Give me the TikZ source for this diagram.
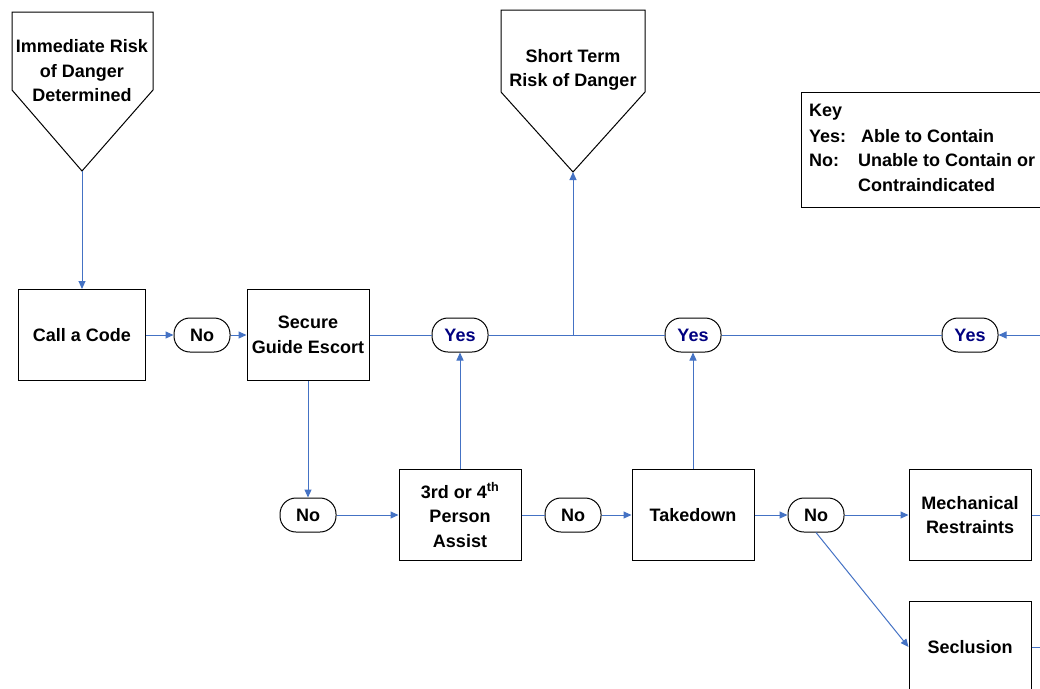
\documentclass[tikz,border=0pt]{standalone}
\usepackage{fontspec}
\setmainfont{Liberation Sans}
\usetikzlibrary{arrows.meta}
\definecolor{flowblue}{HTML}{4472C4}
\definecolor{yesblue}{HTML}{000080}
\newcommand{\flowfont}{\fontsize{18}{24.5}\selectfont\bfseries}

\begin{document}
\begin{tikzpicture}[x=1pt, y=-1pt,
    box/.style = {draw, line width=1pt, minimum width=122pt, minimum height=91pt, align=center, font=\flowfont},
    answer/.style = {draw, line width=1pt, rounded corners=16pt, minimum width=56pt, minimum height=34pt, font=\flowfont},
    link/.style = {draw=flowblue, line width=1pt},
    arrow/.style = {link, -{Triangle[length=8pt, width=7pt]}}]
    \useasboundingbox (0,0) rectangle (1040,688);
    \clip (0,0) rectangle (1040,688);

    % entry points
    \draw[line width=1pt] (12,12) -- (153,12) -- (153,90) -- (82,171) -- (12,90) -- cycle;
    \node[align=center, font=\flowfont] (nowtext) at (82,71) {Immediate Risk\\of Danger\\Determined};
    \coordinate (nowtip) at (82,171);
    \draw[line width=1pt] (501,10) -- (645,10) -- (645,92) -- (573,172) -- (501,92) -- cycle;
    \node[align=center, font=\flowfont] (soontext) at (573,70) {Short Term\\Risk of Danger};
    \coordinate (soontip) at (573,172);

    % key
    \draw[line width=1pt] (801,92) rectangle (1060,207);
    \node[anchor=west, inner sep=0, font=\flowfont] (keytitle) at (809,112) {Key};
    \node[anchor=west, inner sep=0, font=\flowfont] (keyyes) at (809,136) {Yes:};
    \node[anchor=west, inner sep=0, font=\flowfont] (keyyesdesc) at (861,136) {Able to Contain};
    \node[anchor=west, inner sep=0, font=\flowfont] (keyno) at (809,160) {No:};
    \node[anchor=west, inner sep=0, font=\flowfont] (keynodesc) at (858,160) {Unable to Contain or};
    \node[anchor=west, inner sep=0, font=\flowfont] (keynodesc2) at (858,185) {Contraindicated};

    % steps
    \node[box, minimum width=127pt] (code) at (82,335) {Call a Code};
    \node[box] (escort) at (308,335) {Secure\\Guide Escort};
    \node[box] (assist) at (460,515) {3rd or 4\textsuperscript{th}\\Person\\Assist};
    \node[box] (takedown) at (693,515) {Takedown};
    \node[box] (restraints) at (970,515) {Mechanical\\Restraints};
    \node[box] (seclusion) at (970,647) {Seclusion};

    % answers
    \node[answer] (no1) at (202,335) {No};
    \node[answer] (no2) at (308,515) {No};
    \node[answer] (no3) at (573,515) {No};
    \node[answer] (no4) at (816,515) {No};
    \foreach \i/\x in {1/460,2/693,3/970} {
        \node[answer, text=yesblue] (yes\i) at (\x,335) {Yes};
    }

    % connectors
    \draw[arrow] (nowtip) -- (code);
    \draw[arrow] (code) -- (no1);
    \draw[arrow] (no1) -- (escort);
    \draw[link] (escort) -- (yes1) (yes1) -- (yes2) (yes2) -- (yes3);
    \coordinate (split) at (573,335);
    \draw[arrow] (split) -- (soontip);
    \coordinate (rightin) at (1040,335);
    \draw[arrow] (rightin) -- (yes3);
    \draw[arrow] (escort) -- (no2);
    \draw[arrow] (no2) -- (assist);
    \draw[arrow] (assist) -- (yes1);
    \draw[link] (assist) -- (no3);
    \draw[arrow] (no3) -- (takedown);
    \draw[arrow] (takedown) -- (yes2);
    \draw[arrow] (takedown) -- (no4);
    \draw[arrow] (no4) -- (restraints);
    \draw[arrow] (no4.south) -- (seclusion.west);
    \coordinate (restraintsout) at (1040,515);
    \coordinate (seclusionout) at (1040,647);
    \draw[link] (restraints) -- (restraintsout);
    \draw[link] (seclusion) -- (seclusionout);
\end{tikzpicture}
\end{document}
